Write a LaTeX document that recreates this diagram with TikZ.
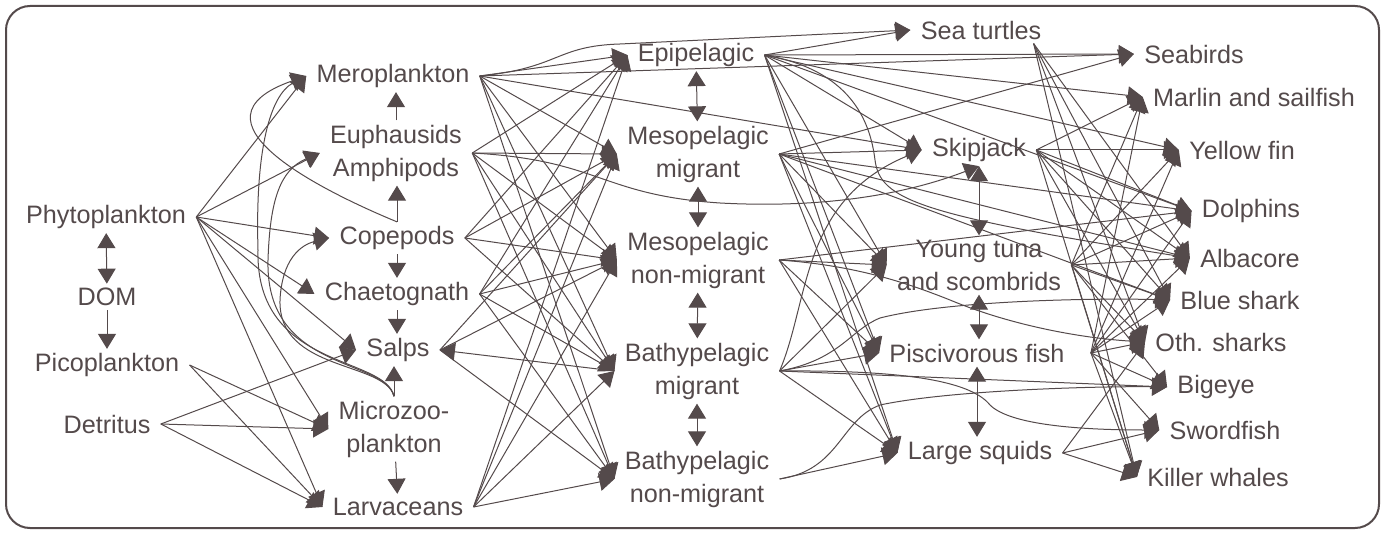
\documentclass[tikz,border=0pt]{standalone}
\usepackage{fontspec}
\setmainfont{Liberation Sans}
\usetikzlibrary{arrows.meta}
\definecolor{fwInk}{RGB}{84,74,75}

\begin{document}
\begin{tikzpicture}[x=0.5pt, y=-0.5pt, >={Triangle[length=7.5pt,width=9pt]},
  every node/.style={font=\fontsize{12.6}{16.5}\selectfont, text=fwInk, align=center, inner xsep=5pt, inner ysep=2pt},
  ed/.style={->, draw=fwInk, line width=0.5pt},
  bi/.style={<->, draw=fwInk, line width=0.5pt}]
  \useasboundingbox (0,0) rectangle (1385,534);
  \draw[fwInk, line width=1pt, rounded corners=12pt] (6,6) rectangle (1379,528);

  \node (phyto) at (106,217) {Phytoplankton};
  \node (dom) at (107,297) {DOM};
  \node (pico) at (107,365) {Picoplankton};
  \node (detr) at (107,424) {Detritus};
  \node (mero) at (393,76) {Meroplankton};
  \node (euph) at (396,153) {Euphausids\\Amphipods};
  \node (cope) at (397,238) {Copepods};
  \node (chaet) at (397,294) {Chaetognath};
  \node (salps) at (398,350) {Salps};
  \node (micro) at (394,429) {Microzoo-\\plankton};
  \node (larv) at (398,507) {Larvaceans};
  \node (epi) at (696,55) {Epipelagic};
  \node (mesom) at (698,154) {Mesopelagic\\migrant};
  \node (mesonm) at (698,260) {Mesopelagic\\non-migrant};
  \node (bathm) at (697,371) {Bathypelagic\\migrant};
  \node (bathnm) at (697,479) {Bathypelagic\\non-migrant};
  \node (turt) at (981,30) {Sea turtles};
  \node (skip) at (979,150) {Skipjack};
  \node (young) at (979,265) {Young tuna\\and scombrids};
  \node (pisc) at (977,353) {Piscivorous fish};
  \node (squid) at (980,453) {Large squids};
  \node (seab) at (1194,54) {Seabirds};
  \node (marl) at (1254,97) {Marlin and sailfish};
  \node (yell) at (1242,150) {Yellow fin};
  \node (dolp) at (1251,211) {Dolphins};
  \node (alba) at (1250,258) {Albacore};
  \node (blue) at (1240,300) {Blue shark};
  \node (oths) at (1221,342) {Oth. sharks};
  \node (bige) at (1216,387) {Bigeye};
  \node (swor) at (1225,430) {Swordfish};
  \node (kill) at (1218,477) {Killer whales};

  % within columns
  \draw[bi] (phyto) -- (dom);
  \draw[ed] (dom) -- (pico);
  \draw[ed] (cope.north) -- (cope.north |- euph.south);
  \draw[ed] (euph.north) -- (euph.north |- mero.south);
  \draw[ed] (cope.south) -- (cope.south |- chaet.north);
  \draw[ed] (chaet.south) -- (chaet.south |- salps.north);
  \draw[ed] (micro.north) -- (micro.north |- salps.south);
  \draw[ed] (micro) -- (larv);
  \draw[bi] (epi) -- (mesom);
  \draw[bi] (mesom) -- (mesonm);
  \draw[bi] (mesonm) -- (bathm);
  \draw[bi] (bathm) -- (bathnm);
  \draw[bi] (young.north) -- (young.north |- skip.south);
  \draw[bi] (young.south) -- (young.south |- pisc.north);
  \draw[bi] (pisc.south) -- (pisc.south |- squid.north);

  % producers to zooplankton
  \foreach \t in {mero,euph,cope,chaet,salps,micro,larv} \draw[ed] (phyto.east) -- (\t.west);
  \foreach \t in {micro,larv} \draw[ed] (pico.east) -- (\t.west);
  \foreach \t in {salps,micro,larv} \draw[ed] (detr.east) -- (\t.west);
  \draw[ed] (cope.north) .. controls (320,190) and (180,120) .. (mero.west);
  \draw[ed] (micro.north) .. controls (385,355) and (255,370) .. (258,250) .. controls (255,150) and (270,95) .. (mero.west);
  \draw[ed] (micro.north) .. controls (385,358) and (265,372) .. (268,260) .. controls (270,200) and (280,170) .. (euph.west);
  \draw[ed] (micro.north) .. controls (385,361) and (278,372) .. (280,300) .. controls (282,260) and (300,245) .. (cope.west);

  % zooplankton to fish
  \foreach \s/\tl in {mero/{epi,mesom,mesonm,bathm,bathnm}, euph/{epi,mesom,mesonm,bathm,bathnm},
      cope/{epi,mesom,mesonm,bathm}, chaet/{epi,mesom,mesonm,bathm,bathnm},
      salps/{mesom,mesonm,bathnm}, larv/{epi,mesom,mesonm,bathm,bathnm}}
    \foreach \t in \tl \draw[ed] (\s.east) -- (\t.west);
  \draw[ed] (bathm.west) -- (salps.east);
  \foreach \t in {seab,skip} \draw[ed] (mero.east) -- (\t.west);
  \draw[ed] (mero.east) .. controls (560,68) and (555,46) .. (620,44) -- (turt.west);
  \draw[ed] (euph.east) .. controls (600,160) and (600,195) .. (720,203) .. controls (850,210) and (930,185) .. (skip.south);

  % fish to predators
  \foreach \s/\tl in {epi/{turt,seab,marl,yell,dolp,skip,young,pisc,squid}, mesom/{seab,skip,dolp,alba,blue,young,pisc,squid},
      mesonm/{dolp,young,pisc,squid}, bathm/{young,pisc,squid,bige}, bathnm/{squid}}
    \foreach \t in \tl \draw[ed] (\s.east) -- (\t.west);
  \draw[ed] (epi.east) .. controls (850,70) and (870,120) .. (875,160) .. controls (880,200) and (920,215) .. (alba.west);
  \draw[ed] (bathm.east) .. controls (810,300) and (800,200) .. (skip.west);
  \draw[ed] (bathm.east) .. controls (840,360) and (850,330) .. (880,318) .. controls (950,300) and (1100,298) .. (blue.west);
  \draw[ed] (bathm.east) .. controls (900,370) and (970,380) .. (990,405) .. controls (1010,425) and (1080,430) .. (swor.west);
  \draw[ed] (bathnm.east) .. controls (840,470) and (840,420) .. (880,405) .. controls (950,390) and (1100,386) .. (bige.west);
  \draw[ed] (mesonm.east) .. controls (850,265) and (900,280) .. (950,300) .. controls (1010,325) and (1080,338) .. (oths.west);

  % top predators
  \foreach \t in {alba,blue,oths,kill} \draw[ed] ([xshift=-9pt]turt.south east) -- (\t.west);
  \foreach \s/\tl in {skip/{marl,yell,dolp,alba,blue,oths,kill}, young/{marl,yell,dolp,alba,blue,oths,bige,kill},
      squid/{oths,swor,kill}}
    \foreach \t in \tl \draw[ed] (\s.east) -- (\t.west);
  \foreach \t in {marl,yell,dolp,alba,blue,oths,bige,swor,kill} \draw[ed] ([xshift=8pt]pisc.east) -- (\t.west);
\end{tikzpicture}
\end{document}
